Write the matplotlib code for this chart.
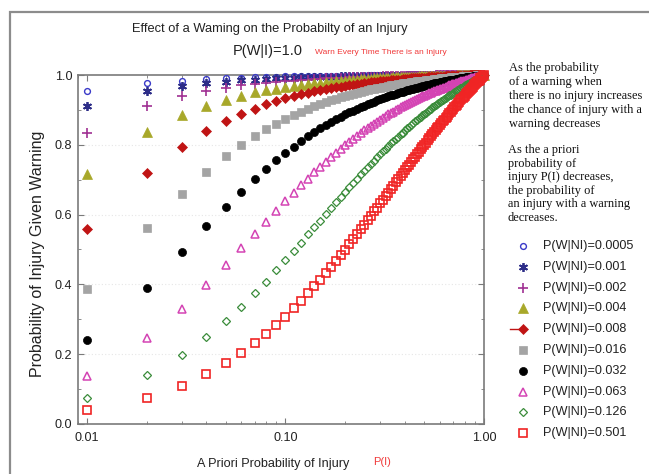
import matplotlib
matplotlib.use("Agg")
import matplotlib.pyplot as plt
from matplotlib import font_manager as fm
from matplotlib.lines import Line2D
from matplotlib.patches import Rectangle
from matplotlib.ticker import NullFormatter, FixedLocator, MultipleLocator

# ---------------- data ----------------
p_injury = [0.01, 0.02, 0.03, 0.04, 0.05, 0.06, 0.07, 0.08, 0.09, 0.10,
            0.11, 0.12, 0.13, 0.14, 0.15, 0.16, 0.17, 0.18, 0.19, 0.20,
            0.21, 0.22, 0.23, 0.24, 0.25, 0.26, 0.27, 0.28, 0.29, 0.30,
            0.31, 0.32, 0.33, 0.34, 0.35, 0.36, 0.37, 0.38, 0.39, 0.40,
            0.41, 0.42, 0.43, 0.44, 0.45, 0.46, 0.47, 0.48, 0.49, 0.50,
            0.51, 0.52, 0.53, 0.54, 0.55, 0.56, 0.57, 0.58, 0.59, 0.60,
            0.61, 0.62, 0.63, 0.64, 0.65, 0.66, 0.67, 0.68, 0.69, 0.70,
            0.71, 0.72, 0.73, 0.74, 0.75, 0.76, 0.77, 0.78, 0.79, 0.80,
            0.81, 0.82, 0.83, 0.84, 0.85, 0.86, 0.87, 0.88, 0.89, 0.90,
            0.91, 0.92, 0.93, 0.94, 0.95, 0.96, 0.97, 0.98, 0.99, 1.00]

series_labels = ["P(W|NI)=0.0005", "P(W|NI)=0.001", "P(W|NI)=0.002", "P(W|NI)=0.004",
                 "P(W|NI)=0.008", "P(W|NI)=0.016", "P(W|NI)=0.032", "P(W|NI)=0.063",
                 "P(W|NI)=0.126", "P(W|NI)=0.501"]

y_0005 = [0.953, 0.976, 0.984, 0.988, 0.991, 0.992, 0.993, 0.994, 0.995, 0.996,
          0.996, 0.996, 0.997, 0.997, 0.997, 0.997, 0.998, 0.998, 0.998, 0.998,
          0.998, 0.998, 0.998, 0.998, 0.998, 0.999, 0.999, 0.999, 0.999, 0.999,
          0.999, 0.999, 0.999, 0.999, 0.999, 0.999, 0.999, 0.999, 0.999, 0.999,
          0.999, 0.999, 0.999, 0.999, 0.999, 0.999, 0.999, 0.999, 0.999, 0.999,
          1.000, 1.000, 1.000, 1.000, 1.000, 1.000, 1.000, 1.000, 1.000, 1.000,
          1.000, 1.000, 1.000, 1.000, 1.000, 1.000, 1.000, 1.000, 1.000, 1.000,
          1.000, 1.000, 1.000, 1.000, 1.000, 1.000, 1.000, 1.000, 1.000, 1.000,
          1.000, 1.000, 1.000, 1.000, 1.000, 1.000, 1.000, 1.000, 1.000, 1.000,
          1.000, 1.000, 1.000, 1.000, 1.000, 1.000, 1.000, 1.000, 1.000, 1.000]

y_001 = [0.910, 0.953, 0.969, 0.977, 0.981, 0.985, 0.987, 0.989, 0.990, 0.991,
         0.992, 0.993, 0.993, 0.994, 0.994, 0.995, 0.995, 0.995, 0.996, 0.996,
         0.996, 0.996, 0.997, 0.997, 0.997, 0.997, 0.997, 0.997, 0.998, 0.998,
         0.998, 0.998, 0.998, 0.998, 0.998, 0.998, 0.998, 0.998, 0.998, 0.998,
         0.999, 0.999, 0.999, 0.999, 0.999, 0.999, 0.999, 0.999, 0.999, 0.999,
         0.999, 0.999, 0.999, 0.999, 0.999, 0.999, 0.999, 0.999, 0.999, 0.999,
         0.999, 0.999, 0.999, 0.999, 0.999, 0.999, 1.000, 1.000, 1.000, 1.000,
         1.000, 1.000, 1.000, 1.000, 1.000, 1.000, 1.000, 1.000, 1.000, 1.000,
         1.000, 1.000, 1.000, 1.000, 1.000, 1.000, 1.000, 1.000, 1.000, 1.000,
         1.000, 1.000, 1.000, 1.000, 1.000, 1.000, 1.000, 1.000, 1.000, 1.000]

y_002 = [0.835, 0.911, 0.939, 0.954, 0.963, 0.970, 0.974, 0.978, 0.980, 0.982,
         0.984, 0.986, 0.987, 0.988, 0.989, 0.990, 0.990, 0.991, 0.992, 0.992,
         0.993, 0.993, 0.993, 0.994, 0.994, 0.994, 0.995, 0.995, 0.995, 0.995,
         0.996, 0.996, 0.996, 0.996, 0.996, 0.996, 0.997, 0.997, 0.997, 0.997,
         0.997, 0.997, 0.997, 0.997, 0.998, 0.998, 0.998, 0.998, 0.998, 0.998,
         0.998, 0.998, 0.998, 0.998, 0.998, 0.998, 0.999, 0.999, 0.999, 0.999,
         0.999, 0.999, 0.999, 0.999, 0.999, 0.999, 0.999, 0.999, 0.999, 0.999,
         0.999, 0.999, 0.999, 0.999, 0.999, 0.999, 0.999, 0.999, 1.000, 1.000,
         1.000, 1.000, 1.000, 1.000, 1.000, 1.000, 1.000, 1.000, 1.000, 1.000,
         1.000, 1.000, 1.000, 1.000, 1.000, 1.000, 1.000, 1.000, 1.000, 1.000]

y_004 = [0.716, 0.836, 0.886, 0.912, 0.929, 0.941, 0.950, 0.956, 0.961, 0.965,
         0.969, 0.972, 0.974, 0.976, 0.978, 0.979, 0.981, 0.982, 0.983, 0.984,
         0.985, 0.986, 0.987, 0.988, 0.988, 0.989, 0.989, 0.990, 0.990, 0.991,
         0.991, 0.992, 0.992, 0.992, 0.993, 0.993, 0.993, 0.994, 0.994, 0.994,
         0.994, 0.995, 0.995, 0.995, 0.995, 0.995, 0.996, 0.996, 0.996, 0.996,
         0.996, 0.996, 0.996, 0.997, 0.997, 0.997, 0.997, 0.997, 0.997, 0.997,
         0.997, 0.998, 0.998, 0.998, 0.998, 0.998, 0.998, 0.998, 0.998, 0.998,
         0.998, 0.998, 0.999, 0.999, 0.999, 0.999, 0.999, 0.999, 0.999, 0.999,
         0.999, 0.999, 0.999, 0.999, 0.999, 0.999, 0.999, 1.000, 1.000, 1.000,
         1.000, 1.000, 1.000, 1.000, 1.000, 1.000, 1.000, 1.000, 1.000, 1.000]

y_008 = [0.558, 0.718, 0.795, 0.839, 0.868, 0.889, 0.904, 0.916, 0.925, 0.933,
         0.939, 0.945, 0.949, 0.953, 0.957, 0.960, 0.962, 0.965, 0.967, 0.969,
         0.971, 0.972, 0.974, 0.975, 0.977, 0.978, 0.979, 0.980, 0.981, 0.982,
         0.983, 0.983, 0.984, 0.985, 0.985, 0.986, 0.987, 0.987, 0.988, 0.988,
         0.989, 0.989, 0.990, 0.990, 0.990, 0.991, 0.991, 0.991, 0.992, 0.992,
         0.992, 0.993, 0.993, 0.993, 0.994, 0.994, 0.994, 0.994, 0.994, 0.995,
         0.995, 0.995, 0.995, 0.996, 0.996, 0.996, 0.996, 0.996, 0.996, 0.997,
         0.997, 0.997, 0.997, 0.997, 0.997, 0.997, 0.998, 0.998, 0.998, 0.998,
         0.998, 0.998, 0.998, 0.998, 0.999, 0.999, 0.999, 0.999, 0.999, 0.999,
         0.999, 0.999, 0.999, 0.999, 1.000, 1.000, 1.000, 1.000, 1.000, 1.000]

y_016 = [0.387, 0.561, 0.659, 0.723, 0.767, 0.800, 0.825, 0.845, 0.861, 0.874,
         0.885, 0.895, 0.903, 0.911, 0.917, 0.923, 0.928, 0.932, 0.936, 0.940,
         0.943, 0.946, 0.949, 0.952, 0.954, 0.957, 0.959, 0.961, 0.962, 0.964,
         0.966, 0.967, 0.969, 0.970, 0.971, 0.972, 0.974, 0.975, 0.976, 0.977,
         0.978, 0.978, 0.979, 0.980, 0.981, 0.982, 0.982, 0.983, 0.984, 0.984,
         0.985, 0.986, 0.986, 0.987, 0.987, 0.988, 0.988, 0.989, 0.989, 0.989,
         0.990, 0.990, 0.991, 0.991, 0.992, 0.992, 0.992, 0.993, 0.993, 0.993,
         0.994, 0.994, 0.994, 0.994, 0.995, 0.995, 0.995, 0.996, 0.996, 0.996,
         0.996, 0.997, 0.997, 0.997, 0.997, 0.997, 0.998, 0.998, 0.998, 0.998,
         0.998, 0.999, 0.999, 0.999, 0.999, 0.999, 1.000, 1.000, 1.000, 1.000]

y_032 = [0.240, 0.389, 0.492, 0.566, 0.622, 0.666, 0.702, 0.731, 0.756, 0.776,
         0.794, 0.810, 0.824, 0.836, 0.847, 0.856, 0.865, 0.873, 0.880, 0.887,
         0.893, 0.898, 0.903, 0.908, 0.912, 0.917, 0.920, 0.924, 0.927, 0.931,
         0.934, 0.936, 0.939, 0.942, 0.944, 0.946, 0.948, 0.950, 0.952, 0.954,
         0.956, 0.958, 0.959, 0.961, 0.962, 0.964, 0.965, 0.967, 0.968, 0.969,
         0.970, 0.971, 0.972, 0.974, 0.975, 0.976, 0.976, 0.977, 0.978, 0.979,
         0.980, 0.981, 0.982, 0.982, 0.983, 0.984, 0.985, 0.985, 0.986, 0.987,
         0.987, 0.988, 0.988, 0.989, 0.989, 0.990, 0.991, 0.991, 0.992, 0.992,
         0.993, 0.993, 0.993, 0.994, 0.994, 0.995, 0.995, 0.996, 0.996, 0.997,
         0.997, 0.997, 0.998, 0.998, 0.998, 0.999, 0.999, 0.999, 1.000, 1.000]

y_063 = [0.138, 0.245, 0.329, 0.398, 0.455, 0.503, 0.544, 0.580, 0.611, 0.638,
         0.662, 0.684, 0.703, 0.721, 0.737, 0.752, 0.765, 0.777, 0.788, 0.799,
         0.808, 0.817, 0.826, 0.834, 0.841, 0.848, 0.855, 0.861, 0.866, 0.872,
         0.877, 0.882, 0.887, 0.891, 0.895, 0.899, 0.903, 0.907, 0.910, 0.914,
         0.917, 0.920, 0.923, 0.926, 0.929, 0.931, 0.934, 0.936, 0.939, 0.941,
         0.943, 0.945, 0.947, 0.949, 0.951, 0.953, 0.955, 0.956, 0.958, 0.960,
         0.961, 0.963, 0.964, 0.966, 0.967, 0.969, 0.970, 0.971, 0.973, 0.974,
         0.975, 0.976, 0.977, 0.978, 0.979, 0.981, 0.982, 0.983, 0.984, 0.984,
         0.985, 0.986, 0.987, 0.988, 0.989, 0.990, 0.991, 0.992, 0.992, 0.993,
         0.994, 0.995, 0.995, 0.996, 0.997, 0.997, 0.998, 0.999, 0.999, 1.000]

y_126 = [0.074, 0.139, 0.197, 0.249, 0.295, 0.336, 0.374, 0.408, 0.440, 0.469,
         0.495, 0.520, 0.543, 0.564, 0.583, 0.602, 0.619, 0.635, 0.651, 0.665,
         0.678, 0.691, 0.703, 0.715, 0.726, 0.736, 0.746, 0.755, 0.764, 0.773,
         0.781, 0.789, 0.796, 0.804, 0.810, 0.817, 0.823, 0.830, 0.835, 0.841,
         0.847, 0.852, 0.857, 0.862, 0.867, 0.871, 0.876, 0.880, 0.884, 0.888,
         0.892, 0.896, 0.900, 0.903, 0.907, 0.910, 0.913, 0.916, 0.920, 0.923,
         0.926, 0.928, 0.931, 0.934, 0.937, 0.939, 0.942, 0.944, 0.946, 0.949,
         0.951, 0.953, 0.956, 0.958, 0.960, 0.962, 0.964, 0.966, 0.968, 0.970,
         0.971, 0.973, 0.975, 0.977, 0.978, 0.980, 0.982, 0.983, 0.985, 0.986,
         0.988, 0.989, 0.991, 0.992, 0.993, 0.995, 0.996, 0.997, 0.999, 1.000]

y_501 = [0.039, 0.075, 0.110, 0.143, 0.174, 0.203, 0.231, 0.258, 0.283, 0.308,
         0.331, 0.353, 0.374, 0.394, 0.414, 0.432, 0.450, 0.468, 0.484, 0.500,
         0.515, 0.530, 0.544, 0.558, 0.571, 0.584, 0.597, 0.609, 0.620, 0.632,
         0.643, 0.653, 0.663, 0.673, 0.683, 0.692, 0.701, 0.710, 0.719, 0.727,
         0.735, 0.743, 0.751, 0.759, 0.766, 0.773, 0.780, 0.787, 0.794, 0.800,
         0.806, 0.813, 0.819, 0.824, 0.830, 0.836, 0.841, 0.847, 0.852, 0.857,
         0.862, 0.867, 0.872, 0.877, 0.881, 0.886, 0.890, 0.895, 0.899, 0.903,
         0.907, 0.911, 0.915, 0.919, 0.923, 0.927, 0.931, 0.934, 0.938, 0.941,
         0.945, 0.948, 0.951, 0.955, 0.958, 0.961, 0.964, 0.967, 0.970, 0.973,
         0.976, 0.979, 0.982, 0.984, 0.987, 0.990, 0.992, 0.995, 0.997, 1.000]

series_values = [y_0005, y_001, y_002, y_004, y_008, y_016, y_032, y_063, y_126, y_501]

x_tick_values = [0.01, 0.1, 1.0]
x_tick_labels = ["0.01", "0.10", "1.00"]
y_tick_values = [0.0, 0.2, 0.4, 0.6, 0.8, 1.0]
y_tick_labels = ["0.0", "0.2", "0.4", "0.6", "0.8", "1.0"]

# ---------------- styles ----------------
styles = [
    dict(marker="o", ms=4.2, mfc="none", mec="#3a3ac8", mew=1.0),
    dict(marker=(6, 2, 0), ms=6.4, mfc="#2d2d88", mec="#2d2d88", mew=1.3),
    dict(marker="+", ms=7.0, mfc="#a03092", mec="#a03092", mew=1.2),
    dict(marker="^", ms=6.6, mfc="#a8a82a", mec="#a8a82a", mew=0.5),
    dict(marker="D", ms=5.0, mfc="#c01414", mec="#c01414", mew=0.5),
    dict(marker="s", ms=6.0, mfc="#a4a4a4", mec="#a4a4a4", mew=0.5),
    dict(marker="o", ms=5.8, mfc="#000000", mec="#000000", mew=0.5),
    dict(marker="^", ms=6.0, mfc="none", mec="#d444b4", mew=1.1),
    dict(marker="D", ms=4.4, mfc="none", mec="#3a8c3a", mew=0.9),
    dict(marker="s", ms=6.2, mfc="none", mec="#f02424", mew=1.2),
]

names = {f.name for f in fm.fontManager.ttflist}
NARROW = "Liberation Sans Narrow" in names
SANS = "Liberation Sans Narrow" if NARROW else "Liberation Sans"
K = 1.0 if NARROW else 0.84
SERIF = "Liberation Serif"

W, H = 649, 474
fig = plt.figure(figsize=(W / 100, H / 100), dpi=100)
fig.patch.set_facecolor("white")


def fx(x):
    return x / W


def fy(y):
    return 1 - y / H


# outer frame
fig.add_artist(Rectangle((fx(10), -0.1), 1.2, fy(12) + 0.1, transform=fig.transFigure,
                         fill=False, edgecolor="#8c8c8c", linewidth=1.6, clip_on=False))

ax_l, ax_r, ax_t, ax_b = 77.7, 484.0, 75.0, 424.0
ax = fig.add_axes([fx(ax_l), fy(ax_b), (ax_r - ax_l) / W, (ax_b - ax_t) / H])
ax.set_xscale("log")
ax.set_xlim(0.0090, 1.0)
ax.set_ylim(0.0, 1.0)

for yv in [0.2, 0.4, 0.6, 0.8]:
    ax.axhline(yv, color="#e6e6e6", lw=0.8, ls=(0, (1, 2)), zorder=0)

for vals, st in zip(series_values, styles):
    ax.plot(p_injury, vals, linestyle="none", clip_on=False, zorder=3, **st)

ax.xaxis.set_major_locator(FixedLocator(x_tick_values))
ax.set_xticklabels(x_tick_labels)
ax.xaxis.set_minor_formatter(NullFormatter())
ax.yaxis.set_major_locator(FixedLocator(y_tick_values))
ax.set_yticklabels(y_tick_labels)
ax.yaxis.set_minor_locator(MultipleLocator(0.1))

for s in ax.spines.values():
    s.set_color("#7a7a7a")
    s.set_linewidth(1.2)

ax.tick_params(which="both", direction="in", top=True, right=True, color="#7a7a7a")
ax.tick_params(which="major", length=4, width=0.8)
ax.tick_params(which="minor", length=2.5, width=0.6)
ax.tick_params(axis="x", which="major", pad=6, labelsize=10.8 * K)
ax.tick_params(axis="y", which="major", pad=4, labelsize=10.8 * K)
for lab in ax.get_xticklabels() + ax.get_yticklabels():
    lab.set_fontfamily(SANS)
    lab.set_color("#222222")

# titles
fig.text(fx(270), fy(29), "Effect of a Waming on the Probabilty of an Injury",
         family=SANS, fontsize=11 * K, color="#222222", ha="center", va="center")
fig.text(fx(233), fy(51), "P(W|I)=1.0", family=SANS, fontsize=12.5 * K,
         color="#222222", ha="left", va="center")
fig.text(fx(315), fy(52), "Warn Every Time There is an Injury", family=SANS,
         fontsize=7.2 * K, color="#f03a3a", ha="left", va="center")

# axis labels
fig.text(fx(38), fy(254), "Probability of Injury Given Warning", family="Liberation Sans",
         fontsize=11.5, rotation=90, color="#222222", ha="center", va="center")
fig.text(fx(197), fy(464), "A Priori Probability of Injury", family=SANS,
         fontsize=10.8 * K, color="#222222", ha="left", va="center")
fig.text(fx(373), fy(462), "P(I)", family=SANS, fontsize=9.5 * K,
         color="#f03a3a", ha="left", va="center")

# annotations on the right
block1 = ["As the probability", "of a warning when", "there is no injury increases",
          "the chance of injury with a", "warning decreases"]
block2 = ["As the a priori", "probability of", "injury P(I) decreases,",
          "the probability of", "an injury with a warning", "decreases."]
for i, line in enumerate(block1):
    fig.text(fx(509), fy(68 + i * 14.0), line, family=SERIF, fontsize=8.9,
             color="#111111", ha="left", va="center")
for i, line in enumerate(block2):
    fig.text(fx(508), fy(150 + i * 13.6), line, family=SERIF, fontsize=8.9,
             color="#111111", ha="left", va="center")

# legend (drawn manually)
for i, (lab, st) in enumerate(zip(series_labels, styles)):
    yy = 246 + i * 20.8
    if i == 4:
        fig.add_artist(Line2D([fx(510), fx(521)], [fy(yy), fy(yy)], transform=fig.transFigure,
                              color="#c01414", lw=1.0))
    fig.add_artist(Line2D([fx(523)], [fy(yy)], transform=fig.transFigure,
                          linestyle="none", **st))
    fig.text(fx(543), fy(yy), lab, family=SANS, fontsize=10.8 * K,
             color="#222222", ha="left", va="center")

fig.savefig("out.png", dpi=100, facecolor="white")
